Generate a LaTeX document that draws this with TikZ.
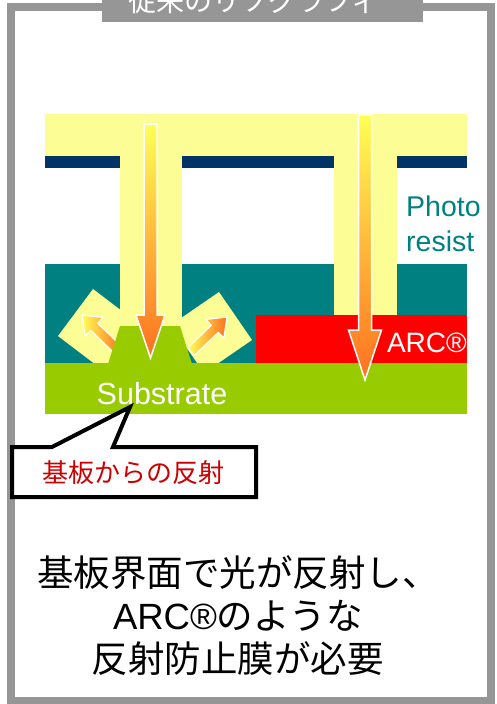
\documentclass[tikz,border=0pt]{standalone}
\usepackage{fontspec}
\setmainfont{Liberation Sans}
\newfontfamily\jp{Noto Sans CJK JP}
\usetikzlibrary{positioning}
\definecolor{cbeam}{HTML}{FDFD96}
\definecolor{cmask}{HTML}{003366}
\definecolor{cresist}{HTML}{008080}
\definecolor{carc}{HTML}{FF0000}
\definecolor{csub}{HTML}{99CC00}
\definecolor{cframe}{HTML}{969696}
\definecolor{cwarn}{HTML}{CC0000}
\definecolor{raytop}{HTML}{FFFF55}
\definecolor{raybot}{HTML}{FF7020}

\begin{document}
\begin{tikzpicture}
		[x=1pt,y=-1pt,every node/.style={inner sep=0pt},
		ray/.style={draw=white,line width=1.5pt,top color=raytop,bottom color=raybot},
		side ray/.style={draw=white,line width=1.2pt,left color=raytop,right color=raybot}]
		\useasboundingbox (0,0) rectangle (496,704);
		\clip (0,0) rectangle (496,704);
		\fill[white] (0,0) rectangle (496,704);
		\draw[cframe,line width=8pt] (11,7) rectangle (491,701);
		\fill[cframe] (102,0) rectangle (423,22);
		\node[text=white,font=\jp\fontsize{28}{30}\selectfont,anchor=base] (title) at (254,12) {従来のリソグラフィ};
		
		\fill[cresist] (45,264) rectangle (467,363);
		\fill[cbeam] (45,114) rectangle (467,156);
		\foreach \from/\to in {45/120, 182/334, 397/467}
		\fill[cmask] (\from,156) rectangle (\to,168);
		\fill[cbeam] (120,156) rectangle (182,363);
		\fill[cbeam] (334,156) rectangle (397,315);
		\fill[cbeam] (58,336) -- (93,289) -- (139,324) -- (104,371) -- cycle;
		\fill[cbeam] (252,340) -- (219,292) -- (171,325) -- (204,373) -- cycle;
		
		\foreach \tx/\ty/\ang in {82/315/136, 227/317/44}
		\shade[side ray,shift={(\tx,\ty)},rotate=\ang]
		(-50,-5) -- (-17,-5) -- (-17,-13) -- (0,0) -- (-17,13) -- (-17,5) -- (-50,5) -- cycle;
		
		\fill[carc] (256,315) rectangle (467,363);
		\fill[csub] (45,363) rectangle (467,414);
		\fill[csub] (108,364) -- (120,326) -- (180,326) -- (192,364) -- cycle;
		
		\shade[ray] (144,124) -- (157,124) -- (157,315) -- (165,315) -- (150.5,358) -- (136,315) -- (144,315) -- cycle;
		\shade[ray] (358.5,115) -- (371.5,115) -- (371.5,330) -- (381.5,330) -- (365,380) -- (348.5,330) -- (358.5,330) -- cycle;
		
		\node[text=cresist,font=\fontsize{28.5}{35}\selectfont,align=left,anchor=west] (resist) at (406,224) {Photo\\resist};
		\node[text=white,font=\fontsize{28}{30}\selectfont,anchor=east] (arc) at (467,343) {ARC®};
		\node[text=white,font=\fontsize{30.5}{32}\selectfont] (substrate) at (162,394) {Substrate};
		
		\coordinate (tip) at (130,407);
		\draw[line width=4pt,fill=white] (12,447) -- (52,447) -- (tip) -- (113,447) -- (256,447) -- (256,497) -- (12,497) -- cycle;
		\node[text=cwarn,font=\jp\fontsize{26}{28}\selectfont] (reflect) at (133,473) {基板からの反射};
		
		\node[font=\jp\fontsize{36.5}{43}\selectfont,align=center] (note) at (238,616) {基板界面で光が反射し、\\{\rmfamily ARC®}のような\\反射防止膜が必要};
		\end{tikzpicture}
\end{document}
